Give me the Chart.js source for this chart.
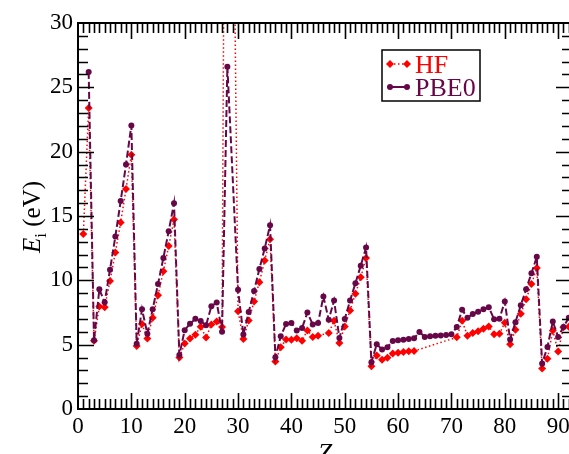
<!DOCTYPE html>
<html>
<head>
<meta charset="utf-8">
<script src="https://cdn.jsdelivr.net/npm/chart.js@4"></script>
<style>
  html, body { margin: 0; padding: 0; background: #fff; overflow: hidden; }
  #wrap { width: 576px; height: 454px; }
</style>
</head>
<body>
<div id="wrap"><canvas id="myChart" width="576" height="454"></canvas></div>
<script>
// atomic number
const Z = Array.from({ length: 92 }, (_, i) => i + 1);

// ionization energies (eV), null = no point
const hfValues = [
    13.6, 23.4, 5.3, 7.97, 7.91, 9.95, 12.17, 14.5, 17.09, 19.77,
    4.9, 6.6, 5.48, 7.09, 8.84, 10.7, 12.66, 14.72, 4.0, 5.1,
    5.47, 5.78, 6.4, 5.56, 6.56, 6.8, 6.37, 88, null, 7.6,
    5.44, 6.88, 8.35, 9.85, 11.55, 13.2, 3.7, 4.8, 5.4, 5.39,
    5.5, 5.31, 6.11, 5.6, 5.7, null, 5.9, 6.85, 5.13, 6.42,
    7.66, 8.95, 10.23, 11.73, 3.33, 4.15, 3.82, 3.98, 4.31, 4.38,
    4.43, 4.49, 4.51, null, null, null, null, null, null, null,
    5.57, 6.85, 5.7, 5.9, 6.05, 6.24, 6.42, 5.8, 5.85, 6.7,
    5.03, 6.16, 7.4, 8.53, 9.72, 10.95, 3.14, 3.9, 6.11, 4.46,
    6.35, 6.4
];

const pbe0Values = [
    null, 26.2, 5.34, 9.3, 8.3, 10.83, 13.4, 16.16, 19.0, 22.04,
    5.08, 7.75, 5.85, 7.76, 9.72, 11.73, 13.82, 15.99, 4.2, 6.13,
    6.63, 7.01, 6.83, 6.5, 7.98, 8.28, 6.0, 26.6, null, 9.26,
    5.79, 7.53, 9.18, 10.88, 12.48, 14.28, 4.02, 5.65, 6.6, 6.68,
    6.11, 6.29, 7.5, 6.57, 6.68, 8.74, 6.94, 8.43, 5.52, 6.99,
    8.43, 9.77, 11.14, 12.55, 3.64, 5.03, 4.63, 4.8, 5.28, 5.34,
    5.39, 5.44, 5.49, 5.98, 5.6, 5.65, 5.7, 5.72, 5.75, 5.8,
    6.37, 7.72, 7.09, 7.38, 7.55, 7.75, 7.91, 6.97, 7.01, 8.36,
    5.4, 6.75, 8.06, 9.31, 10.55, 11.83, 3.53, 4.82, 6.8, 5.6,
    6.37, 7.1
];

const xTickLabels = [0, 10, 20, 30, 40, 50, 60, 70, 80, 90];
const yTickLabels = [0, 5, 10, 15, 20, 25, 30];

const HF_COLOR = '#ff0000';
const PBE0_COLOR = '#670748';
const SERIF = "'Liberation Serif', 'Times New Roman', Times, serif";

const toPoints = (vals) => Z.map((z, i) => ({ x: z, y: vals[i] }));

// inward ticks on all four sides + frame
const frameTicks = {
    id: 'frameTicks',
    afterDatasetsDraw(chart) {
        const { ctx, chartArea: a, scales: { x, y } } = chart;
        ctx.save();
        ctx.strokeStyle = '#000';
        ctx.lineWidth = 1.6;
        ctx.beginPath();
        for (let v = 1; v <= Math.floor(x.max); v++) {
            const px = Math.round(x.getPixelForValue(v)) + 0.5;
            const len = v % 10 === 0 ? 16 : 10;
            ctx.moveTo(px, a.bottom); ctx.lineTo(px, a.bottom - len);
            ctx.moveTo(px, a.top); ctx.lineTo(px, a.top + len);
        }
        for (let v = 1; v < 30; v++) {
            const py = Math.round(y.getPixelForValue(v)) + 0.5;
            const len = v % 5 === 0 ? 16 : 10;
            ctx.moveTo(a.left, py); ctx.lineTo(a.left + len, py);
            ctx.moveTo(a.right, py); ctx.lineTo(a.right - len, py);
        }
        ctx.stroke();
        ctx.lineWidth = 2;
        ctx.strokeRect(a.left, a.top, a.right - a.left, a.bottom - a.top);
        ctx.restore();
    },
    afterDraw(chart) {
        const { ctx, chartArea: a } = chart;
        ctx.save();
        // axis titles
        ctx.fillStyle = '#000';
        ctx.textBaseline = 'alphabetic';
        ctx.textAlign = 'center';
        ctx.font = 'italic 26px ' + SERIF;
        ctx.fillText('Z', (a.left + a.right) / 2, 461);

        ctx.translate(40, 217);
        ctx.rotate(-Math.PI / 2);
        ctx.textAlign = 'left';
        ctx.font = 'italic 25px ' + SERIF;
        const wE = ctx.measureText('E').width;
        ctx.font = '17px ' + SERIF;
        const wi = ctx.measureText('i').width;
        ctx.font = '25px ' + SERIF;
        const wRest = ctx.measureText(' (eV)').width;
        let cx = -(wE + wi + wRest) / 2;
        ctx.font = 'italic 25px ' + SERIF;
        ctx.fillText('E', cx, 0); cx += wE;
        ctx.font = '17px ' + SERIF;
        ctx.fillText('i', cx, 6); cx += wi;
        ctx.font = '25px ' + SERIF;
        ctx.fillText(' (eV)', cx, 0);
        ctx.restore();

        // legend box
        ctx.save();
        const bx = 382, by = 50, bw = 98, bh = 51;
        ctx.fillStyle = '#fff';
        ctx.fillRect(bx, by, bw, bh);
        ctx.strokeStyle = '#000';
        ctx.lineWidth = 1.5;
        ctx.strokeRect(bx, by, bw, bh);
        const rows = [
            { label: 'HF', color: HF_COLOR, y: 64, dash: [1.5, 2.5], width: 1.5, marker: 'diamond' },
            { label: 'PBE0', color: PBE0_COLOR, y: 87, dash: [], width: 2, marker: 'circle' }
        ];
        rows.forEach(r => {
            ctx.strokeStyle = r.color;
            ctx.fillStyle = r.color;
            ctx.lineWidth = r.width;
            ctx.setLineDash(r.dash);
            ctx.beginPath();
            ctx.moveTo(390, r.y); ctx.lineTo(407, r.y);
            ctx.stroke();
            ctx.setLineDash([]);
            [390, 407].forEach(mx => {
                ctx.beginPath();
                if (r.marker === 'diamond') {
                    ctx.moveTo(mx, r.y - 4); ctx.lineTo(mx + 4, r.y);
                    ctx.lineTo(mx, r.y + 4); ctx.lineTo(mx - 4, r.y);
                    ctx.closePath();
                } else {
                    ctx.arc(mx, r.y, 3, 0, Math.PI * 2);
                }
                ctx.fill();
            });
            ctx.font = '26px ' + SERIF;
            ctx.textAlign = 'left';
            ctx.textBaseline = 'alphabetic';
            ctx.fillText(r.label, 415, r.y + 9);
        });
        ctx.restore();
    }
};

const main = () => {
    const data = {
        datasets: [{
            label: 'PBE0',
            data: toPoints(pbe0Values),
            borderColor: PBE0_COLOR,
            backgroundColor: PBE0_COLOR,
            borderWidth: 2,
            borderDash: [7, 3],
            pointStyle: 'circle',
            pointRadius: 3,
            pointBorderWidth: 0,
            spanGaps: true,
            tension: 0
        }, {
            label: 'HF',
            data: toPoints(hfValues),
            borderColor: HF_COLOR,
            backgroundColor: HF_COLOR,
            borderWidth: 1.5,
            borderDash: [1.5, 2.5],
            pointStyle: 'rectRot',
            pointRadius: 4,
            pointBorderWidth: 0,
            spanGaps: true,
            tension: 0
        }]
    };

    const config = {
        type: 'line',
        data: data,
        options: {
            responsive: false,
            animation: false,
            layout: { padding: { top: 23, right: 4, left: 0, bottom: 0 } },
            plugins: { legend: { display: false }, tooltip: { enabled: false } },
            scales: {
                x: {
                    type: 'linear',
                    min: 0,
                    max: 92.6,
                    grid: { display: false, drawTicks: false },
                    border: { display: false },
                    afterBuildTicks: (s) => { s.ticks = xTickLabels.map(v => ({ value: v })); },
                    afterFit: (s) => { s.height = 45; },
                    ticks: {
                        color: '#000',
                        padding: 4,
                        maxRotation: 0,
                        font: { family: SERIF, size: 23 }
                    }
                },
                y: {
                    min: 0,
                    max: 30,
                    grid: { display: false, drawTicks: false },
                    border: { display: false },
                    afterBuildTicks: (s) => { s.ticks = yTickLabels.map(v => ({ value: v })); },
                    afterFit: (s) => { s.width = 78; },
                    ticks: {
                        color: '#000',
                        padding: 5,
                        font: { family: SERIF, size: 23 }
                    }
                }
            }
        },
        plugins: [frameTicks]
    };

    new Chart(document.getElementById('myChart'), config);
};

window.onload = () => {
    document.fonts.load("23px 'Liberation Serif'").then(main, main);
};
</script>
</body>
</html>
